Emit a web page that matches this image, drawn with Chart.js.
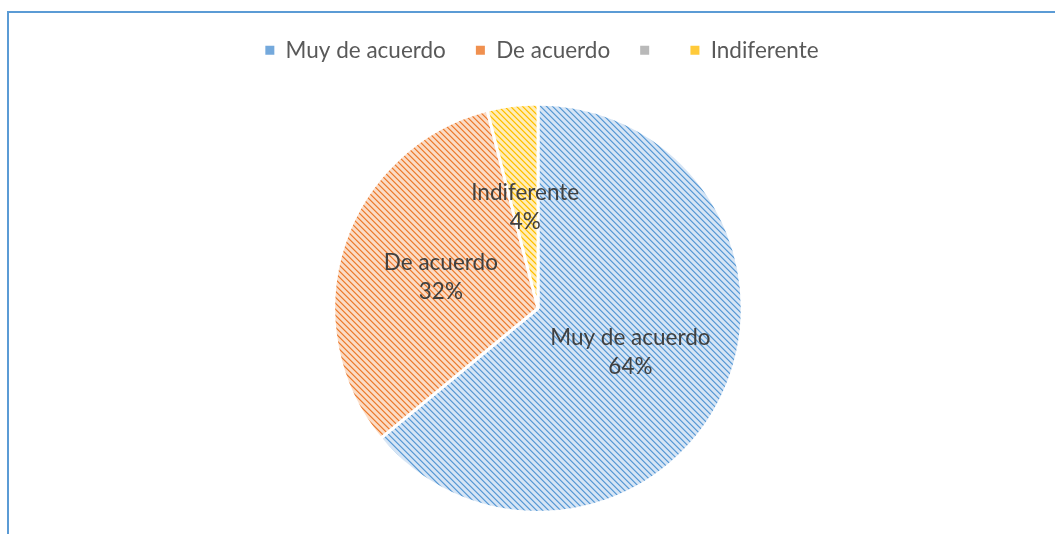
<!DOCTYPE html>
<html>
<head>
<meta charset="utf-8">
<title>Pie</title>
<script src="https://cdn.jsdelivr.net/npm/chart.js@4.4.1/dist/chart.umd.min.js"></script>
<style>
  html, body { margin: 0; padding: 0; background: #fff; overflow: hidden; width: 1055px; height: 534px; }
  #frame { position: absolute; left: 7px; top: 11px; width: 1200px; height: 700px;
           border-left: 2px solid #5b9bd5; border-top: 2px solid #5b9bd5; }
  #wrap { position: absolute; left: 8px; top: 0; width: 1060px; height: 534px; }
</style>
</head>
<body>
<div id="frame"></div>
<div id="wrap"><canvas id="chart"></canvas></div>
<script>
// ---------- Data ----------
const categories = ["Muy de acuerdo", "De acuerdo", "", "Indiferente"];
const shares = [64, 32, 0, 4];   // percent of answers

// ---------- Styles ----------
const lightColors = ["#d6e5f5", "#fbdcc6", "#e2e2e2", "#ffedb8"];
const darkColors = ["#5b9bd5", "#ed7d31", "#a5a5a5", "#ffc000"];
const legendColors = ["#74a9dc", "#f0904f", "#b9b9b9", "#ffca3a"];
const FONT = "Lato, 'Open Sans', sans-serif";

// diagonal hatch, like the office "wide downward diagonal" fill
function stripes(light, dark) {
  const n = 6;
  const c = document.createElement("canvas");
  c.width = n; c.height = n;
  const g = c.getContext("2d");
  g.fillStyle = light;
  g.fillRect(0, 0, n, n);
  g.fillStyle = dark;
  for (let i = 0; i < n; i++) g.fillRect(i, i, 1, 1);
  g.globalAlpha = 0.55;
  for (let i = 0; i < n; i++) g.fillRect((i + 1) % n, i, 1, 1);
  g.globalAlpha = 0.2;
  for (let i = 0; i < n; i++) g.fillRect((i + n - 1) % n, i, 1, 1);
  return g.createPattern(c, "repeat");
}

const fills = lightColors.map((l, i) => stripes(l, darkColors[i]));

// ---------- Plugins ----------
// extra room between legend and pie, legend nudged right a little
const legendGap = {
  id: "legendGap",
  beforeInit(chart) {
    const fit = chart.legend.fit;
    chart.legend.fit = function () {
      fit.call(this);
      this.height += 31;
      this.lineWidths = this.lineWidths.map(w => w - 8);
    };
  }
};

// category name + percent inside every slice
const sliceLabels = {
  id: "sliceLabels",
  afterDatasetsDraw(chart) {
    const ctx = chart.ctx;
    const meta = chart.getDatasetMeta(0);
    ctx.save();
    ctx.font = "22.5px " + FONT;
    ctx.fillStyle = "#404040";
    ctx.textAlign = "center";
    ctx.textBaseline = "middle";
    meta.data.forEach((arc, i) => {
      if (!shares[i]) return;
      const p = arc.getProps(["x", "y", "startAngle", "endAngle", "outerRadius"], true);
      const mid = (p.startAngle + p.endAngle) / 2;
      const r = p.outerRadius * 0.5;
      const x = p.x + Math.cos(mid) * r;
      const y = p.y + Math.sin(mid) * r;
      ctx.fillText(categories[i], x, y - 14);
      ctx.fillText(shares[i] + "%", x, y + 15);
    });
    ctx.restore();
  }
};

// ---------- Chart ----------
new Chart(document.getElementById("chart"), {
  type: "pie",
  data: {
    labels: categories,
    datasets: [{
      data: shares,
      backgroundColor: fills,
      borderColor: "#ffffff",
      borderWidth: 3
    }]
  },
  options: {
    responsive: true,
    maintainAspectRatio: false,
    animation: false,
    layout: { padding: { top: 9, bottom: 20 } },
    plugins: {
      tooltip: { enabled: false },
      legend: {
        position: "top",
        labels: {
          font: { family: FONT, size: 22.5 },
          color: "#595959",
          boxWidth: 9,
          boxHeight: 9,
          padding: 30,
          generateLabels(chart) {
            const items = Chart.overrides.pie.plugins.legend.labels.generateLabels(chart);
            return items.map((it, i) => Object.assign(it, { lineWidth: 0, fillStyle: legendColors[i] }));
          }
        }
      }
    }
  },
  plugins: [legendGap, sliceLabels]
});
</script>
</body>
</html>
